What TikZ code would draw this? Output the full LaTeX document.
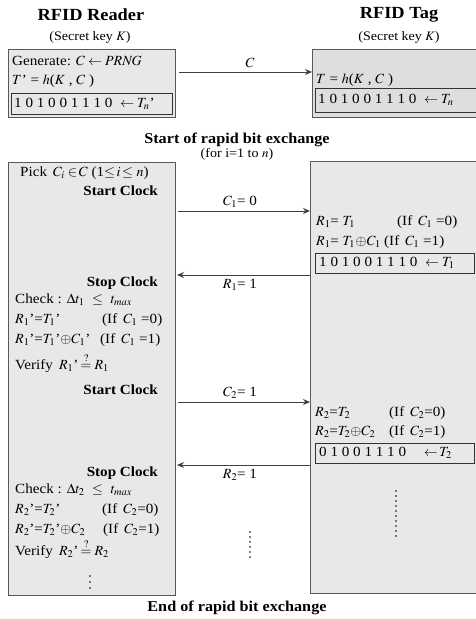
\documentclass[tikz,border=0pt]{standalone}
\usepackage{mathptmx}
\usepackage[no-math]{fontspec}
\setmainfont[FakeStretch=1.08]{Liberation Serif}
\usetikzlibrary{arrows.meta}
\tikzset{
  box/.style={draw=black!65, fill=black!9, line width=1pt},
  tbox/.style={draw=black!65, fill=black!13, line width=1pt},
  ibox/.style={draw=black!80, line width=0.8pt},
  txt/.style={anchor=west, inner sep=0pt, font=\fontsize{14}{16}\selectfont},
  rtxt/.style={anchor=east, inner sep=0pt, font=\fontsize{14}{16}\selectfont\bfseries},
  ctxt/.style={inner sep=0pt, font=\fontsize{14}{16}\selectfont},
  ttl/.style={inner sep=0pt, font=\fontsize{17}{19}\selectfont\bfseries},
  sub/.style={inner sep=0pt, font=\fontsize{13}{15}\selectfont},
  hdr/.style={inner sep=0pt, font=\fontsize{15}{17}\selectfont\bfseries},
  arr/.style={draw=black!75, line width=1pt, -{Stealth[length=7pt,width=6pt]}},
  dotline/.style={line width=1.6pt, dash pattern=on 0pt off 5pt, line cap=round}
}
\begin{document}
\begin{tikzpicture}[x=1pt,y=-1pt]
\path[use as bounding box] (0,0) rectangle (475,619);
% titles
\node[ttl] (rtitle) at (91,15) {RFID Reader};
\node[sub] (rkey) at (90,37) {(Secret key $K$)};
\node[ttl] (ttitle) at (399,15) {RFID Tag};
\node[sub] (tkey) at (399,37) {(Secret key $K$)};
% top boxes
\draw[box] (8,49) rectangle (175,117);
\node[txt] (gen) at (12,61) {Generate: $C \leftarrow \mathit{PRNG}$};
\node[txt] (tpr) at (12,81) {$T$’ = $h$($K$ , $C$ )};
\draw[ibox] (11,93) rectangle (172,114);
\node[txt] (tnp) at (14,103.5) {1 0 1 0 0 1 1 1 0 \ $\leftarrow T_n$’};
\draw[tbox] (312,49) rectangle (485,117);
\node[txt] (tt) at (316,80) {$T$ = $h$($K$ , $C$ )};
\draw[ibox] (315,88) rectangle (480,112);
\node[txt] (tn) at (318,100) {1 0 1 0 0 1 1 1 0 \ $\leftarrow T_n$};
\coordinate (cA) at (179,72);
\coordinate (cB) at (312,72);
\draw[arr] (cA) -- (cB);
\node[ctxt] (clab) at (250,63) {$C$};
% section header
\node[hdr] (start) at (237,140) {Start of rapid bit exchange};
\node[sub] (fori) at (237,154) {(for i=1 to $n$)};
% lower boxes
\draw[box] (8,162) rectangle (175,595);
\draw[box] (310,161) rectangle (485,593);
\node[txt] (pick) at (20,173) {Pick \,$C_i \in\! C$ (1$\le\! i\!\le$ $n$)};
\node[rtxt] (sc1) at (158,191) {Start Clock};
\coordinate (a1s) at (178,211);
\coordinate (a1e) at (310,211);
\draw[arr] (a1s) -- (a1e);
\node[ctxt] (c1lab) at (240,202) {$C_1$= 0};
\node[txt] (r1a) at (316,222) {$R_1$= $T_1$};
\node[txt] (r1ai) at (397,222) {(If \,$C_1$ =0)};
\node[txt] (r1b) at (316,242) {$R_1$= $T_1\!\oplus\! C_1$};
\node[txt] (r1bi) at (384,242) {(If \,$C_1$ =1)};
\draw[ibox] (315,253) rectangle (474,273);
\node[txt] (t1) at (319,263) {1 0 1 0 0 1 1 1 0 \ $\leftarrow T_1$};
\coordinate (b1s) at (310,275);
\coordinate (b1e) at (177,275);
\draw[arr] (b1s) -- (b1e);
\node[ctxt] (r1lab) at (240,285) {$R_1$= 1};
\node[rtxt] (st1) at (158,283) {Stop Clock};
\node[txt] (chk1) at (15,300) {Check : $\Delta t_1$ \ $\le$ \ $t_{max}$};
\node[txt] (v1a) at (15,320) {$R_1$’=$T_1$’};
\node[txt] (v1ai) at (102,320) {(If \,$C_1$ =0)};
\node[txt] (v1b) at (15,340) {$R_1$’=$T_1$’$\oplus C_1$’};
\node[txt] (v1bi) at (100,340) {(If \,$C_1$ =1)};
\node[txt] (ver1) at (15,363) {Verify \,$R_1$’\,$\stackrel{?}{=} R_1$};
\node[rtxt] (sc2) at (158,390) {Start Clock};
\coordinate (a2s) at (178,402);
\coordinate (a2e) at (310,402);
\draw[arr] (a2s) -- (a2e);
\node[ctxt] (c2lab) at (240,393) {$C_2$= 1};
\node[txt] (r2a) at (315,413) {$R_2$=$T_2$};
\node[txt] (r2ai) at (389,413) {(If \,$C_2$=0)};
\node[txt] (r2b) at (315,432) {$R_2$=$T_2$$\oplus$$C_2$};
\node[txt] (r2bi) at (389,432) {(If \,$C_2$=1)};
\draw[ibox] (315,443) rectangle (474,463);
\node[txt] (t2) at (319,453) {0 1 0 0 1 1 1 0 \quad $\leftarrow\! T_2$};
\coordinate (b2s) at (310,465);
\coordinate (b2e) at (177,465);
\draw[arr] (b2s) -- (b2e);
\node[ctxt] (r2lab) at (240,475) {$R_2$= 1};
\node[rtxt] (st2) at (158,473) {Stop Clock};
\node[txt] (chk2) at (15,490) {Check : $\Delta t_2$ \ $\le$ \ $t_{max}$};
\node[txt] (v2a) at (15,510) {$R_2$’=$T_2$’};
\node[txt] (v2ai) at (102,510) {(If \,$C_2$=0)};
\node[txt] (v2b) at (15,530) {$R_2$’=$T_2$’$\oplus C_2$};
\node[txt] (v2bi) at (103,530) {(If \,$C_2$=1)};
\node[txt] (ver2) at (15,549) {Verify \,$R_2$’\,$\stackrel{?}{=} R_2$};
\coordinate (ld1) at (90,576);
\coordinate (ld2) at (90,588);
\draw[dotline, dash pattern=on 0pt off 6pt] (ld1) -- (ld2);
\coordinate (md1) at (250,532);
\coordinate (md2) at (250,560);
\draw[dotline] (md1) -- (md2);
\coordinate (rd1) at (396,491);
\coordinate (rd2) at (396,536);
\draw[dotline] (rd1) -- (rd2);
\node[hdr] (endx) at (237,608) {End of rapid bit exchange};
\end{tikzpicture}
\end{document}
